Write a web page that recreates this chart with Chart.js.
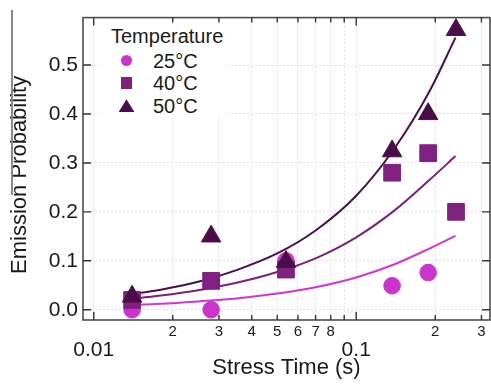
<!DOCTYPE html>
<html><head><meta charset="utf-8">
<script src="https://cdn.jsdelivr.net/npm/chart.js@4"></script>
<style>
html,body{margin:0;padding:0;background:#fff;}
#wrap{position:relative;width:491px;height:385px;font-family:"Liberation Sans",Arial,sans-serif;color:#1a1a1a;}
#c{position:absolute;left:0;top:0;}
#legend{position:absolute;left:100px;top:25px;width:126px;height:92px;background:#fff;}
#legend .ttl{position:absolute;left:11px;top:1px;font-size:20px;line-height:20px;white-space:nowrap;}
#legend .row{position:absolute;left:0;width:126px;height:20px;}
#legend .lab{position:absolute;left:53px;top:0;font-size:20px;line-height:20px;white-space:nowrap;}
#legend .mk{position:absolute;}
#edge{position:absolute;left:11px;top:10px;width:2px;height:185px;background:#8a8a8a;}
</style></head>
<body>
<div id="wrap">
<canvas id="c" width="491" height="385"></canvas>
<div id="edge"></div>
<div id="legend"></div>
</div>
<script>
// ---- data ----
const stressTimes = [0.014, 0.028, 0.054, 0.137, 0.188, 0.24];
const temperatures = ['25°C', '40°C', '50°C'];
const legendTitle = 'Temperature';
const prob25 = [0.0, 0.0, 0.10, 0.049, 0.076, null];
const prob40 = [0.02, 0.059, 0.082, 0.280, 0.320, 0.200];
const prob50 = [0.027, 0.150, 0.098, 0.324, 0.400, 0.572];

// fitted curves
const fitT = [0.0133, 0.018, 0.025, 0.035, 0.05, 0.07, 0.1, 0.14, 0.19, 0.2389];
const fit25 = [0.009, 0.012, 0.017, 0.023, 0.033, 0.046, 0.066, 0.093, 0.125, 0.151];
const fit40 = [0.021, 0.029, 0.040, 0.055, 0.077, 0.105, 0.148, 0.203, 0.265, 0.314];
const fit50 = [0.030, 0.041, 0.057, 0.081, 0.115, 0.162, 0.233, 0.330, 0.446, 0.556];

const xTicks = [0.01, 0.02, 0.03, 0.04, 0.05, 0.06, 0.07, 0.08, 0.09, 0.1, 0.2, 0.3];
const xTickLabels = [['', '0.01'], '2', '3', '4', '5', '6', '7', '8', '', ['', '0.1'], '2', '3'];
const xMajor = [0.01, 0.1];
const yTicks = [0, 0.1, 0.2, 0.3, 0.4, 0.5];
const yTickLabels = ['0.0', '0.1', '0.2', '0.3', '0.4', '0.5'];
const xTitle = 'Stress Time (s)';
const yTitle = 'Emission Probability';

// ---- styles ----
const FAM = '"Liberation Sans", Arial, sans-serif';
const pointColors = ['#cc33cc', '#802080', '#4a0d4a'];
const lineColors = ['#d036d0', '#7d1f7d', '#4a104a'];
const pointStyles = ['circle', 'rect', 'triangle'];
const pointRadii = [8.3, 11.8, 11.2];

const pts = (xs, ys) => xs.map((x, i) => ({x: x, y: ys[i]})).filter(p => p.y !== null);
const probs = [prob25, prob40, prob50];
const fits = [fit25, fit40, fit50];

const datasets = [];
for (let k = 0; k < 3; k++) {
  datasets.push({
    label: temperatures[k] + ' fit', data: pts(fitT, fits[k]), showLine: true,
    borderColor: lineColors[k], borderWidth: 2, pointRadius: 0, fill: false,
    cubicInterpolationMode: 'monotone', order: 5 - k
  });
}
for (let k = 0; k < 3; k++) {
  datasets.push({
    label: temperatures[k], data: pts(stressTimes, probs[k]), showLine: false,
    pointStyle: pointStyles[k], pointRadius: pointRadii[k], pointHoverRadius: pointRadii[k],
    backgroundColor: pointColors[k], borderColor: pointColors[k], borderWidth: 1, order: 2 - k
  });
}

const framePlugin = {
  id: 'frame',
  afterDatasetsDraw(chart) {
    const {ctx, chartArea: a, scales: {x, y}} = chart;
    ctx.save();
    ctx.strokeStyle = '#4d4d4d';
    ctx.lineWidth = 1.6;
    ctx.strokeRect(a.left, a.top, a.right - a.left, a.bottom - a.top);
    ctx.strokeStyle = '#333';
    ctx.lineWidth = 1.4;
    ctx.beginPath();
    xTicks.forEach(v => {
      const px = x.getPixelForValue(v);
      const len = xMajor.includes(v) ? 8 : 5;
      ctx.moveTo(px, a.bottom); ctx.lineTo(px, a.bottom - len);
      ctx.moveTo(px, a.top); ctx.lineTo(px, a.top + len);
    });
    yTicks.forEach(v => {
      const py = y.getPixelForValue(v);
      ctx.moveTo(a.left, py); ctx.lineTo(a.left + 8, py);
      ctx.moveTo(a.right, py); ctx.lineTo(a.right - 8, py);
    });
    ctx.stroke();
    ctx.restore();
  }
};

new Chart(document.getElementById('c'), {
  type: 'scatter',
  data: {datasets: datasets},
  plugins: [framePlugin],
  options: {
    responsive: false, animation: false,
    layout: {autoPadding: false, padding: {top: 11, right: 1, bottom: 0, left: 0}},
    plugins: {legend: {display: false}, tooltip: {enabled: false}},
    scales: {
      x: {
        type: 'logarithmic', min: 0.0091, max: 0.3234, bounds: 'data',
        afterBuildTicks: s => { s.ticks = xTicks.map(v => ({value: v, major: xMajor.includes(v)})); },
        afterFit: s => { s.height = 65; },
        ticks: {
          autoSkip: false, maxRotation: 0, minRotation: 0, padding: 2.7, color: '#1a1a1a',
          font: ctx => (ctx.tick && ctx.tick.major) ? {family: FAM, size: 21, lineHeight: 0.873} : {family: FAM, size: 15, lineHeight: 1.2},
          callback: (v, i) => xTickLabels[i]
        },
        grid: {color: '#e2e2e2', lineWidth: 1, drawTicks: false},
        border: {display: false, dash: [2, 2]},
        title: {display: true, text: xTitle, color: '#1a1a1a', font: {family: FAM, size: 22, lineHeight: 1.2}, padding: {top: 0, bottom: 4}}
      },
      y: {
        type: 'linear', min: -0.021, max: 0.597, bounds: 'data',
        afterBuildTicks: s => { s.ticks = yTicks.map(v => ({value: v})); },
        afterFit: s => { s.width = 83; },
        ticks: {padding: 5, color: '#1a1a1a', font: {family: FAM, size: 21}, callback: (v, i) => yTickLabels[i]},
        grid: {color: '#e2e2e2', lineWidth: 1, drawTicks: false},
        border: {display: false, dash: [2, 2]},
        title: {display: true, text: yTitle + '  ', color: '#1a1a1a', font: {family: FAM, size: 22, lineHeight: 1.2}, padding: {top: 7, bottom: 0}}
      }
    }
  }
});

// ---- legend (HTML) ----
const lg = document.getElementById('legend');
const t = document.createElement('div');
t.className = 'ttl'; t.textContent = legendTitle; lg.appendChild(t);
const rowCenters = [35.7, 58.3, 80.7];
temperatures.forEach((name, k) => {
  const row = document.createElement('div');
  row.className = 'row'; row.style.top = (rowCenters[k] - 10) + 'px';
  const mk = document.createElement('div');
  mk.className = 'mk';
  const c = pointColors[k];
  if (pointStyles[k] === 'circle') {
    Object.assign(mk.style, {width: '11px', height: '11px', left: '21px', top: '4.5px', borderRadius: '50%', background: c});
  } else if (pointStyles[k] === 'rect') {
    Object.assign(mk.style, {width: '11px', height: '12px', left: '21px', top: '4px', background: c});
  } else {
    Object.assign(mk.style, {width: '16px', height: '13px', left: '18.5px', top: '3.5px', background: c, clipPath: 'polygon(50% 0, 100% 100%, 0 100%)'});
  }
  const lab = document.createElement('div');
  lab.className = 'lab'; lab.textContent = name;
  row.appendChild(mk); row.appendChild(lab);
  lg.appendChild(row);
});
</script>
</body></html>
